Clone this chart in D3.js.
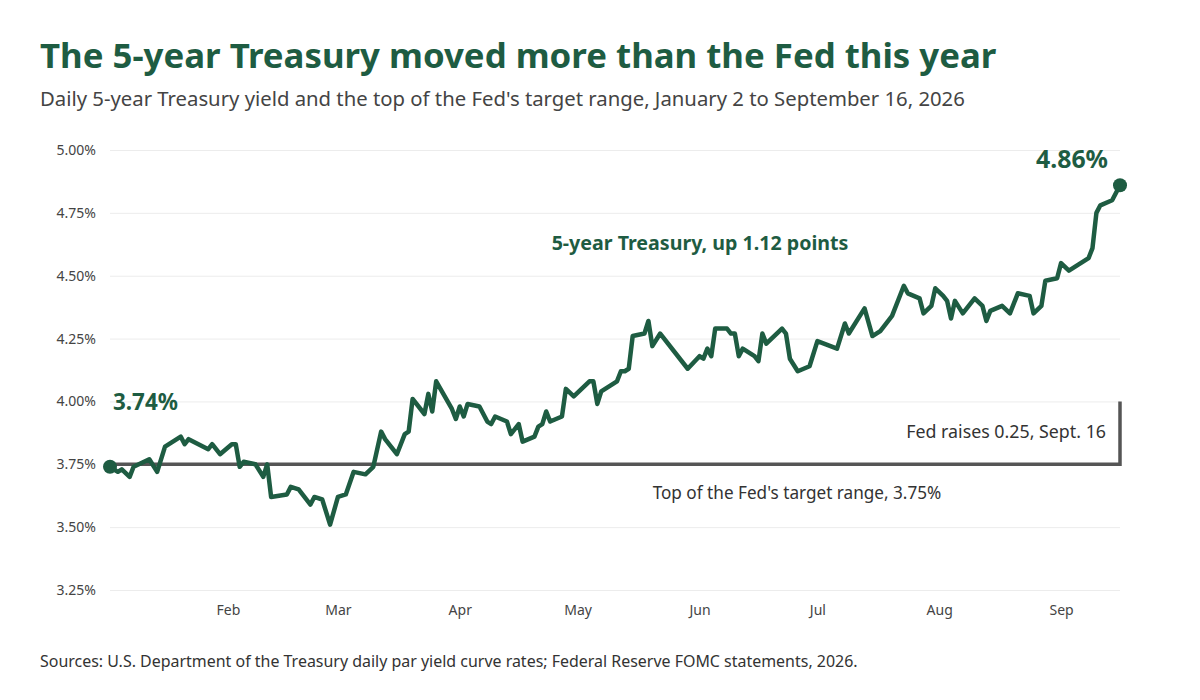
<!DOCTYPE html>
<html><head><meta charset="utf-8">
<script src="https://cdn.jsdelivr.net/npm/d3@7"></script>
<style>body{margin:0;background:#fff;font-family:"Noto Sans",sans-serif}</style>
</head><body><svg id="c" width="1200" height="700" font-family="Noto Sans, sans-serif"></svg>
<script>
const dates = ["2026-01-02","2026-01-04","2026-01-05","2026-01-07","2026-01-08","2026-01-12","2026-01-14","2026-01-16","2026-01-20","2026-01-21","2026-01-22","2026-01-27","2026-01-28","2026-01-30","2026-02-02","2026-02-03","2026-02-04","2026-02-05","2026-02-08","2026-02-10","2026-02-11","2026-02-12","2026-02-16","2026-02-17","2026-02-19","2026-02-22","2026-02-23","2026-02-25","2026-02-27","2026-03-01","2026-03-03","2026-03-05","2026-03-08","2026-03-10","2026-03-12","2026-03-13","2026-03-16","2026-03-18","2026-03-19","2026-03-20","2026-03-23","2026-03-24","2026-03-25","2026-03-26","2026-03-30","2026-03-31","2026-04-01","2026-04-02","2026-04-03","2026-04-06","2026-04-08","2026-04-09","2026-04-10","2026-04-13","2026-04-14","2026-04-16","2026-04-17","2026-04-20","2026-04-21","2026-04-22","2026-04-23","2026-04-24","2026-04-27","2026-04-28","2026-04-30","2026-05-04","2026-05-05","2026-05-06","2026-05-07","2026-05-11","2026-05-12","2026-05-13","2026-05-14","2026-05-15","2026-05-18","2026-05-19","2026-05-20","2026-05-22","2026-05-29","2026-06-01","2026-06-02","2026-06-03","2026-06-04","2026-06-05","2026-06-08","2026-06-09","2026-06-10","2026-06-11","2026-06-12","2026-06-15","2026-06-16","2026-06-17","2026-06-18","2026-06-22","2026-06-23","2026-06-24","2026-06-26","2026-06-29","2026-07-01","2026-07-06","2026-07-08","2026-07-09","2026-07-13","2026-07-15","2026-07-17","2026-07-20","2026-07-23","2026-07-24","2026-07-27","2026-07-28","2026-07-30","2026-07-31","2026-08-02","2026-08-03","2026-08-04","2026-08-05","2026-08-07","2026-08-10","2026-08-12","2026-08-13","2026-08-14","2026-08-17","2026-08-19","2026-08-21","2026-08-24","2026-08-25","2026-08-27","2026-08-28","2026-08-31","2026-09-01","2026-09-03","2026-09-04","2026-09-08","2026-09-09","2026-09-10","2026-09-11","2026-09-14","2026-09-16"];
const yields = [3.74,3.72,3.73,3.70,3.74,3.77,3.72,3.82,3.86,3.83,3.85,3.81,3.83,3.79,3.83,3.83,3.74,3.76,3.75,3.70,3.75,3.62,3.63,3.66,3.65,3.59,3.62,3.61,3.51,3.62,3.63,3.72,3.71,3.74,3.88,3.85,3.79,3.87,3.88,4.01,3.95,4.03,3.96,4.08,3.97,3.93,3.98,3.94,3.99,3.98,3.92,3.91,3.94,3.92,3.87,3.91,3.84,3.86,3.90,3.91,3.96,3.92,3.94,4.05,4.02,4.08,4.08,3.99,4.04,4.08,4.12,4.12,4.13,4.26,4.27,4.32,4.22,4.27,4.13,4.18,4.17,4.21,4.18,4.29,4.29,4.27,4.27,4.18,4.21,4.18,4.16,4.27,4.23,4.29,4.27,4.17,4.12,4.14,4.24,4.21,4.31,4.27,4.37,4.26,4.28,4.34,4.46,4.43,4.41,4.35,4.38,4.45,4.42,4.40,4.33,4.40,4.35,4.41,4.38,4.32,4.36,4.38,4.35,4.43,4.42,4.35,4.38,4.48,4.49,4.55,4.52,4.53,4.57,4.61,4.75,4.78,4.80,4.86];
const fedBefore = 3.75, fedAfter = 4.00;
const yTicks = [3.25,3.50,3.75,4.00,4.25,4.50,4.75,5.00];
const xTickDates = ["2026-02-01","2026-03-01","2026-04-01","2026-05-01","2026-06-01","2026-07-01","2026-08-01","2026-09-01"];
const xTickLabels = ["Feb","Mar","Apr","May","Jun","Jul","Aug","Sep"];

const green = "#1e5c42";
const parse = d3.timeParse("%Y-%m-%d");
const data = dates.map((d,i)=>({date:parse(d), v:yields[i]}));
const svg = d3.select("#c");
const x = d3.scaleTime().domain([parse("2026-01-02"), parse("2026-09-16")]).range([110,1120]);
const y = d3.scaleLinear().domain([3.25,5.00]).range([590,150]);

// scale a text's font-size so it spans the target width
function fit(t, w){ const n=t.node(); const s=+t.attr("font-size"); const l=n.getComputedTextLength(); if(l>0) t.attr("font-size", s*w/l); return t; }

fit(svg.append("text").attr("x",40).attr("y",68).attr("font-size",33).attr("font-weight",700).attr("fill",green).text("The 5-year Treasury moved more than the Fed this year"),957);
fit(svg.append("text").attr("x",40).attr("y",106).attr("font-size",18).attr("fill","#444").text("Daily 5-year Treasury yield and the top of the Fed's target range, January 2 to September 16, 2026"),925);

const ya = svg.append("g").attr("transform","translate(110,0)")
  .call(d3.axisLeft(y).tickValues(yTicks).tickSize(-1010).tickFormat(d=>d3.format(".2f")(d)+"%").tickPadding(14));
ya.select(".domain").remove();
ya.selectAll("line").attr("stroke","#ececec");
ya.selectAll("text").attr("font-size",14).attr("fill","#444").attr("font-family","Noto Sans,sans-serif");

const xa = svg.append("g").attr("transform","translate(0,600)")
  .call(d3.axisBottom(x).tickValues(xTickDates.map(parse)).tickFormat((d,i)=>xTickLabels[i]).tickSize(0).tickPadding(5));
xa.select(".domain").remove();
xa.selectAll("text").attr("font-size",14).attr("fill","#444").attr("font-family","Noto Sans,sans-serif");

const fedPts = [[parse("2026-01-02"),fedBefore],[parse("2026-09-16"),fedBefore],[parse("2026-09-16"),fedAfter]];
svg.append("path").attr("d", d3.line().x(d=>x(d[0])).y(d=>y(d[1]))(fedPts))
  .attr("fill","none").attr("stroke","#555").attr("stroke-width",3.5);

svg.append("path").datum(data).attr("d", d3.line().x(d=>x(d.date)).y(d=>y(d.v)))
  .attr("fill","none").attr("stroke",green).attr("stroke-width",4.5).attr("stroke-linejoin","round");

const first = data[0], last = data[data.length-1];
[first,last].forEach(d=>svg.append("circle").attr("cx",x(d.date)).attr("cy",y(d.v)).attr("r",7).attr("fill",green));

fit(svg.append("text").attr("x",113).attr("y",y(first.v)-57).attr("font-size",21).attr("font-weight",700).attr("fill",green).text(d3.format(".2f")(first.v)+"%"),65);
fit(svg.append("text").attr("x",x(last.date)-12).attr("y",y(last.v)-17).attr("text-anchor","end").attr("font-size",21).attr("font-weight",700).attr("fill",green).text(d3.format(".2f")(last.v)+"%"),72);
fit(svg.append("text").attr("x",700).attr("y",250).attr("text-anchor","middle").attr("font-size",18).attr("font-weight",700).attr("fill",green).text("5-year Treasury, up 1.12 points"),297);
fit(svg.append("text").attr("x",1106).attr("y",438).attr("text-anchor","end").attr("font-size",16).attr("fill","#333").text("Fed raises 0.25, Sept. 16"),200);
fit(svg.append("text").attr("x",797).attr("y",499).attr("text-anchor","middle").attr("font-size",16).attr("fill","#333").text("Top of the Fed's target range, 3.75%"),289);
fit(svg.append("text").attr("x",40).attr("y",667).attr("font-size",14).attr("fill","#333").text("Sources: U.S. Department of the Treasury daily par yield curve rates; Federal Reserve FOMC statements, 2026."),818);
</script></body></html>
